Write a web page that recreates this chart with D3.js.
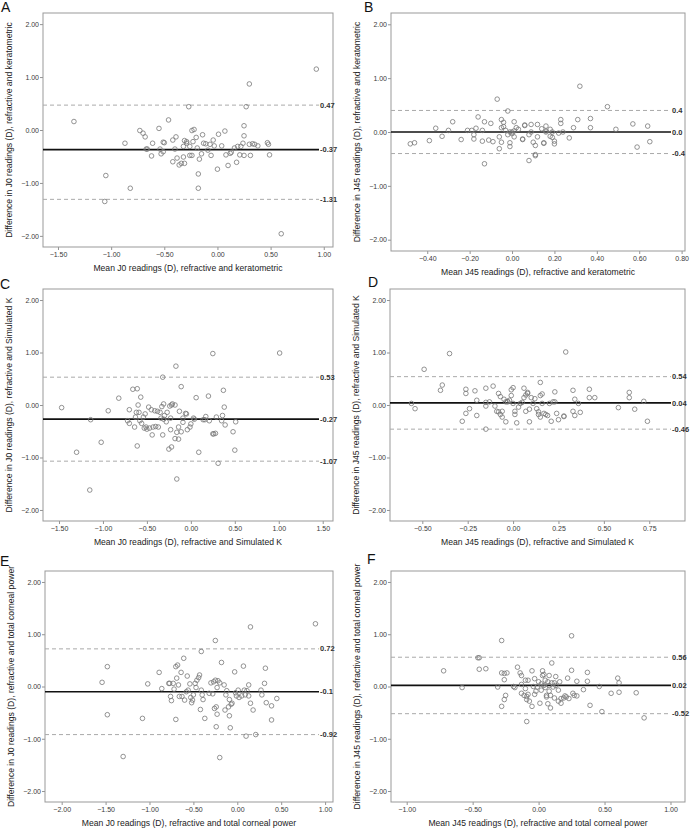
<!DOCTYPE html>
<html><head><meta charset="utf-8">
<script src="https://cdn.jsdelivr.net/npm/d3@7"></script>
<style>body{margin:0;background:#fff;} text{font-family:"Liberation Sans",Arial,sans-serif;}</style>
</head><body><svg id="c" width="691" height="831"></svg>
<script>
// ---------- DATA ----------
const panelLetters = ["A","B","C","D","E","F"];
const xTitles = [
 "Mean J0 readings (D), refractive and keratometric",
 "Mean J45 readings (D), refractive and keratometric",
 "Mean J0 readings (D), refractive and Simulated K",
 "Mean J45 readings (D), refractive and Simulated K",
 "Mean J0 readings (D), refractive and total corneal power",
 "Mean J45 readings (D), refractive and total corneal power"];
const yTitles = [
 "Difference in J0 readings (D), refractive and keratometric",
 "Difference in J45 readings (D), refractive and keratometric",
 "Difference in J0 readings (D), refractive and Simulated K",
 "Difference in J45 readings (D), refractive and Simulated K",
 "Difference in J0 readings (D), refractive and total corneal power",
 "Difference in J45 readings (D), refractive and total corneal power"];
const xTicksA = [-1.5,-1,-0.5,0,0.5,1];
const xTicksB = [-0.4,-0.2,0,0.2,0.4,0.6,0.8];
const xTicksC = [-1.5,-1,-0.5,0,0.5,1,1.5];
const xTicksD = [-0.5,-0.25,0,0.25,0.5,0.75];
const xTicksE = [-2,-1.5,-1,-0.5,0,0.5,1];
const xTicksF = [-1,-0.5,0,0.5,1];
const yTicks = [-2,-1,0,1,2];

// limits of agreement: [upper, mean, lower]
const limitsA = [0.47,-0.37,-1.31], limitLabelsA = ["0.47","-0.37","-1.31"];
const limitsB = [0.40,0.00,-0.40],  limitLabelsB = ["0.4","0.0","-0.4"];
const limitsC = [0.53,-0.27,-1.07], limitLabelsC = ["0.53","-0.27","-1.07"];
const limitsD = [0.54,0.04,-0.46],  limitLabelsD = ["0.54","0.04","-0.46"];
const limitsE = [0.72,-0.10,-0.92], limitLabelsE = ["0.72","-0.1","-0.92"];
const limitsF = [0.56,0.02,-0.52],  limitLabelsF = ["0.56","0.02","-0.52"];

// points: mean (x) and difference (y)
const meanA = [-1.35,-1.05,-1.06,-0.82,-0.87,-0.73,-0.70,-0.68,-0.67,-0.66,-0.62,-0.61,-0.55,-0.54,-0.53,-0.51,-0.50,-0.51,-0.46,-0.42,-0.42,-0.40,-0.39,-0.38,-0.36,-0.34,-0.32,-0.32,-0.31,-0.31,-0.29,-0.29,-0.27,-0.26,-0.26,-0.24,-0.24,-0.22,-0.23,-0.20,-0.19,-0.18,-0.18,-0.17,-0.15,-0.14,-0.13,-0.11,-0.09,-0.07,-0.06,-0.04,-0.03,0.00,0.01,0.04,0.07,0.08,0.10,0.12,0.13,0.16,0.18,0.19,0.21,0.22,0.24,0.25,0.25,0.25,0.27,0.30,0.30,0.31,0.33,0.35,0.38,0.47,0.48,0.49,0.60,0.93];
const diffA = [0.16,-0.86,-1.35,-1.10,-0.25,-0.01,-0.06,-0.13,-0.36,-0.36,-0.49,-0.25,0.03,-0.36,-0.45,-0.23,-0.24,-0.41,0.19,-0.19,-0.60,-0.36,-0.13,-0.53,-0.66,-0.63,-0.51,-0.31,-0.63,-0.20,-0.25,-0.22,0.44,-0.31,-0.48,-0.48,-0.01,0.01,-0.22,-0.14,-0.34,-0.83,-1.10,-0.55,-0.45,-0.09,-0.25,-0.26,-0.38,-0.27,-0.48,-0.19,-0.30,-0.74,-0.08,-0.30,-0.02,-0.47,-0.67,-0.44,-0.42,-0.34,-0.61,-0.31,-0.47,-0.31,-0.25,-0.11,0.08,-0.48,0.44,0.87,-0.27,-0.48,-0.26,-0.27,-0.30,-0.24,-0.27,-0.47,-1.96,1.15];

const meanB = [-0.48,-0.46,-0.39,-0.36,-0.33,-0.30,-0.28,-0.24,-0.21,-0.19,-0.18,-0.18,-0.17,-0.16,-0.14,-0.14,-0.13,-0.13,-0.10,-0.09,-0.11,-0.07,-0.06,-0.06,-0.05,-0.05,-0.05,-0.04,-0.04,-0.03,-0.02,-0.02,-0.01,-0.01,-0.01,0.00,0.00,0.01,0.01,0.01,0.02,0.03,0.05,0.05,0.06,0.06,0.08,0.08,0.09,0.09,0.10,0.11,0.11,0.11,0.12,0.12,0.14,0.15,0.15,0.16,0.16,0.16,0.18,0.18,0.19,0.19,0.20,0.20,0.22,0.23,0.23,0.24,0.27,0.29,0.31,0.32,0.37,0.37,0.45,0.49,0.57,0.59,0.64,0.65];
const diffB = [-0.22,-0.20,-0.16,0.07,-0.08,0.03,0.19,-0.14,0.03,0.03,-0.13,-0.05,0.07,0.28,-0.17,0.03,0.19,-0.59,0.16,-0.18,-0.15,0.61,-0.31,-0.09,0.23,0.08,-0.19,0.18,0.10,0.03,-0.05,0.39,0.00,-0.20,-0.27,-0.03,0.00,-0.09,0.19,0.02,0.08,0.05,-0.13,-0.14,0.12,0.13,-0.53,-0.05,0.14,0.00,-0.19,-0.25,-0.44,-0.42,0.14,-0.09,0.06,-0.20,-0.21,0.11,0.02,0.00,0.05,-0.08,-0.10,0.00,-0.17,-0.22,-0.02,0.23,0.16,0.00,-0.11,0.08,0.23,0.85,0.25,0.08,0.47,0.05,0.15,-0.28,0.11,-0.18];

const meanC = [-1.47,-1.30,-1.15,-1.14,-1.02,-0.94,-0.82,-0.72,-0.70,-0.70,-0.66,-0.64,-0.63,-0.61,-0.62,-0.61,-0.60,-0.59,-0.58,-0.57,-0.56,-0.54,-0.53,-0.52,-0.51,-0.50,-0.48,-0.47,-0.45,-0.43,-0.44,-0.41,-0.40,-0.38,-0.37,-0.35,-0.34,-0.33,-0.32,-0.32,-0.31,-0.30,-0.31,-0.28,-0.27,-0.25,-0.24,-0.23,-0.22,-0.22,-0.23,-0.21,-0.18,-0.17,-0.18,-0.16,-0.16,-0.14,-0.14,-0.13,-0.11,-0.11,-0.09,-0.09,-0.06,-0.05,-0.04,-0.01,0.00,0.03,0.04,0.06,0.09,0.14,0.16,0.17,0.20,0.21,0.25,0.25,0.26,0.28,0.29,0.31,0.35,0.36,0.37,0.38,0.39,0.48,0.50,0.51,1.01];
const diffC = [-0.05,-0.90,-1.62,-0.28,-0.71,-0.11,0.13,-0.30,-0.35,-0.09,0.30,-0.42,-0.23,0.31,-0.14,-0.78,0.00,-0.14,-0.30,0.15,-0.35,-0.23,-0.44,-0.17,-0.42,-0.46,-0.04,-0.44,-0.09,-0.42,-0.57,-0.11,-0.41,-0.12,-0.42,-0.14,-0.25,-0.03,-0.57,0.53,-0.27,-0.20,0.02,-0.32,-0.14,-0.84,-0.02,-0.25,0.00,-0.80,-0.47,0.02,0.00,0.74,-0.64,-1.41,-0.52,-0.65,-0.42,-0.12,0.35,-0.51,-0.33,-0.25,-0.16,-0.17,-0.47,-0.42,-0.36,-0.25,-0.27,0.14,-0.90,-0.28,-0.28,-0.22,0.17,-0.30,0.98,-0.55,-0.55,-0.54,-0.23,-1.11,-0.30,-0.20,0.28,-0.04,-0.38,-0.51,-0.86,-0.32,0.99];

const meanD = [-0.56,-0.54,-0.49,-0.40,-0.39,-0.35,-0.28,-0.26,-0.26,-0.26,-0.24,-0.21,-0.20,-0.20,-0.15,-0.15,-0.15,-0.15,-0.13,-0.11,-0.10,-0.09,-0.08,-0.08,-0.07,-0.07,-0.06,-0.05,-0.06,-0.04,-0.04,-0.03,-0.03,-0.02,-0.01,-0.01,0.00,0.00,0.01,0.01,0.02,0.03,0.04,0.05,0.06,0.06,0.07,0.07,0.08,0.08,0.09,0.09,0.10,0.11,0.12,0.13,0.14,0.14,0.15,0.15,0.15,0.16,0.16,0.17,0.18,0.19,0.20,0.21,0.22,0.23,0.23,0.24,0.25,0.28,0.28,0.29,0.33,0.33,0.34,0.34,0.36,0.37,0.42,0.42,0.45,0.58,0.64,0.64,0.67,0.72,0.74];
const diffD = [0.03,-0.07,0.68,0.28,0.38,0.98,-0.31,0.22,0.30,-0.16,-0.07,0.27,0.09,-0.20,0.32,0.05,-0.46,-0.02,0.06,0.36,-0.02,-0.12,-0.13,0.22,-0.18,0.16,-0.12,0.11,-0.23,-0.32,0.06,0.07,0.06,0.09,0.29,0.18,0.03,0.33,-0.18,-0.12,-0.34,-0.04,0.03,0.05,0.32,0.14,-0.12,0.19,0.22,0.24,-0.32,-0.08,0.14,0.03,0.12,-0.07,-0.13,-0.18,-0.23,0.43,0.18,0.21,0.03,-0.16,-0.18,-0.20,0.03,-0.31,0.06,0.06,0.25,-0.16,-0.28,-0.21,-0.22,1.01,-0.12,0.28,-0.20,0.11,0.03,-0.14,0.30,0.14,0.14,-0.05,0.24,0.14,-0.08,0.07,-0.31];

const meanE = [-1.54,-1.48,-1.48,-1.30,-1.08,-1.02,-0.89,-0.86,-0.78,-0.77,-0.76,-0.75,-0.73,-0.72,-0.70,-0.69,-0.70,-0.68,-0.67,-0.66,-0.64,-0.63,-0.61,-0.60,-0.58,-0.57,-0.56,-0.54,-0.53,-0.52,-0.51,-0.50,-0.48,-0.47,-0.46,-0.44,-0.43,-0.42,-0.41,-0.41,-0.40,-0.39,-0.37,-0.32,-0.30,-0.28,-0.27,-0.26,-0.25,-0.25,-0.24,-0.24,-0.23,-0.23,-0.22,-0.20,-0.20,-0.18,-0.15,-0.14,-0.13,-0.12,-0.10,-0.09,-0.09,-0.08,-0.07,-0.06,-0.03,-0.02,-0.01,0.01,0.02,0.05,0.07,0.08,0.09,0.10,0.11,0.13,0.13,0.15,0.15,0.18,0.21,0.27,0.28,0.31,0.32,0.33,0.39,0.39,0.45,0.89];
const diffE = [0.08,0.38,-0.54,-1.34,-0.61,0.05,0.27,-0.04,0.06,0.06,-0.19,-0.27,0.06,-0.05,0.38,0.16,-0.63,0.41,0.03,-0.19,0.27,-0.19,0.54,-0.26,-0.10,0.20,-0.07,0.05,-0.21,-0.31,-0.26,-0.16,0.06,-0.02,0.12,0.17,0.22,-0.44,-0.07,0.67,-0.16,-0.25,-0.61,-0.13,0.07,-0.14,0.09,-0.42,0.12,0.88,-0.77,-0.39,-0.53,-0.02,0.11,0.07,-1.36,0.46,0.03,-0.45,-0.16,-0.08,-0.39,-0.25,-0.56,-0.79,-0.34,-0.32,0.28,-0.12,-0.18,-0.07,-0.21,-0.18,0.39,-0.07,-0.16,-0.95,-0.08,-0.18,0.03,1.14,-0.32,-0.45,-0.92,-0.07,-0.16,0.06,0.35,-0.31,-0.64,-0.37,-0.23,1.20];

const meanF = [-0.72,-0.58,-0.45,-0.46,-0.45,-0.40,-0.31,-0.28,-0.28,-0.28,-0.26,-0.26,-0.26,-0.25,-0.24,-0.19,-0.18,-0.16,-0.14,-0.13,-0.13,-0.13,-0.11,-0.10,-0.10,-0.09,-0.09,-0.09,-0.08,-0.08,-0.07,-0.05,-0.05,-0.04,-0.03,-0.03,-0.02,-0.01,0.00,0.01,0.02,0.02,0.03,0.03,0.04,0.04,0.05,0.05,0.06,0.06,0.07,0.07,0.08,0.08,0.08,0.09,0.09,0.10,0.10,0.11,0.12,0.12,0.13,0.13,0.15,0.15,0.16,0.17,0.17,0.19,0.20,0.21,0.22,0.23,0.25,0.25,0.26,0.27,0.29,0.29,0.34,0.37,0.37,0.39,0.46,0.48,0.55,0.60,0.61,0.61,0.74,0.80];
const diffF = [0.30,-0.02,0.55,0.55,0.33,0.34,-0.01,-0.38,0.88,0.26,0.25,0.13,-0.25,-0.17,0.26,0.00,-0.02,0.37,0.26,0.21,-0.13,0.04,-0.17,-0.04,0.12,-0.19,-0.25,-0.67,0.12,-0.15,-0.28,0.30,-0.38,0.00,-0.15,0.15,-0.09,-0.01,0.09,-0.32,-0.07,0.05,0.21,0.30,0.02,0.23,0.12,-0.02,-0.20,-0.17,-0.33,0.09,-0.09,0.21,0.02,-0.17,-0.41,0.45,0.07,-0.01,-0.22,0.07,0.19,0.02,-0.28,-0.07,0.09,-0.32,-0.23,-0.22,-0.18,-0.20,0.16,-0.23,0.97,0.31,-0.13,-0.17,-0.18,0.10,-0.06,0.10,0.27,-0.36,0.00,-0.48,-0.13,0.16,0.07,-0.11,-0.12,-0.60];

// ---------- LAYOUT ----------
const frames = [
 {l:43, t:13, r:333, b:247, xd:[-1.641,1.087], letter:[1,12]},
 {l:391,t:13, r:685, b:251, xd:[-0.571,0.816], letter:[364,12]},
 {l:43, t:289,r:333, b:521, xd:[-1.682,1.617], letter:[0,289]},
 {l:390,t:289,r:685, b:521, xd:[-0.678,0.947], letter:[368,287]},
 {l:45, t:571,r:333, b:802, xd:[-2.19,1.09],   letter:[0,566]},
 {l:391,t:571,r:685, b:802, xd:[-1.119,1.11],  letter:[367,564]}
];
const panels = [
 {mean:meanA, diff:diffA, lim:limitsA, lab:limitLabelsA, xt:xTicksA},
 {mean:meanB, diff:diffB, lim:limitsB, lab:limitLabelsB, xt:xTicksB},
 {mean:meanC, diff:diffC, lim:limitsC, lab:limitLabelsC, xt:xTicksC},
 {mean:meanD, diff:diffD, lim:limitsD, lab:limitLabelsD, xt:xTicksD},
 {mean:meanE, diff:diffE, lim:limitsE, lab:limitLabelsE, xt:xTicksE},
 {mean:meanF, diff:diffF, lim:limitsF, lab:limitLabelsF, xt:xTicksF}
];

const svg = d3.select("#c");
panels.forEach((p,i)=>{
  const f = frames[i];
  const x = d3.scaleLinear().domain(f.xd).range([f.l,f.r]);
  const y = d3.scaleLinear().domain([-2.21,2.21]).range([f.b,f.t]);
  const g = svg.append("g");
  const xa = g.append("g").attr("transform",`translate(0,${f.b})`)
    .call(d3.axisBottom(x).tickValues(p.xt).tickFormat(d3.format(".2f")).tickSize(3).tickPadding(2));
  const ya = g.append("g").attr("transform",`translate(${f.l},0)`)
    .call(d3.axisLeft(y).tickValues(yTicks).tickFormat(d3.format(".2f")).tickSize(3).tickPadding(1));
  [xa,ya].forEach(a=>{
    a.select(".domain").remove();
    a.selectAll(".tick line").attr("stroke","#777").attr("stroke-width",0.8);
    a.selectAll(".tick text").attr("fill","#3a3a3a").style("font-size","7px").style("font-family","'Liberation Sans',Arial,sans-serif");
  });
  g.append("rect").attr("x",f.l).attr("y",f.t).attr("width",f.r-f.l).attr("height",f.b-f.t)
    .attr("fill","none").attr("stroke","#999").attr("stroke-width",1);
  const lineEnd = f.r-14;
  p.lim.forEach((v,k)=>{
    g.append("line").attr("x1",f.l).attr("x2",lineEnd).attr("y1",y(v)).attr("y2",y(v))
      .attr("stroke",k===1?"#111":"#aaa").attr("stroke-width",k===1?1.7:1)
      .attr("stroke-dasharray",k===1?null:"4,3");
    g.append("text").attr("x",lineEnd+1).attr("y",y(v)).attr("dy","0.35em")
      .attr("fill","#333").style("font-size","7.5px").style("font-weight","bold").text(p.lab[k]);
  });
  g.append("g").selectAll("circle").data(p.mean.map((m,j)=>[m,p.diff[j]])).join("circle")
    .attr("cx",d=>x(d[0])).attr("cy",d=>y(d[1])).attr("r",2.3)
    .attr("fill","none").attr("stroke","#777").attr("stroke-width",0.8);
  g.append("text").attr("x",(f.l+f.r)/2).attr("y",f.b+24).attr("text-anchor","middle")
    .attr("fill","#222").style("font-size","8.6px").text(xTitles[i]);
  g.append("text").attr("transform",`translate(${f.l-31},${(f.t+f.b)/2}) rotate(-90)`)
    .attr("text-anchor","middle").attr("fill","#222").style("font-size","8.6px").text(yTitles[i]);
  g.append("text").attr("x",f.letter[0]).attr("y",f.letter[1]).attr("fill","#111")
    .style("font-size","14px").text(panelLetters[i]);
});
</script></body></html>
